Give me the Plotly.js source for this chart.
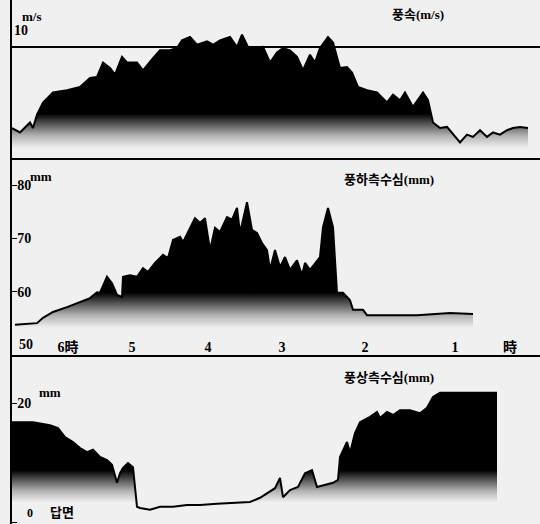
<!DOCTYPE html>
<html><head><meta charset="utf-8">
<script src="https://cdn.plot.ly/plotly-3.0.1.min.js"></script>
<style>html,body{margin:0;padding:0;background:#f0f0f0}</style>
</head><body><div id="chart" style="width:540px;height:524px"></div>
<script>
// time position along the chart (time runs right-to-left: 6時 ... 1時)
const windT = [0,8,18,21,25,31,41,55,68,78,85,91,98,103,110,115,125,131,141,148,158,165,170,178,185,195,201,208,218,225,230,236,243,251,258,265,271,278,285,291,298,303,308,316,321,328,335,340,346,355,365,375,381,388,393,401,411,416,421,428,435,448,455,461,468,475,481,488,495,501,508,516];
const windSpeed = [2.7,2.3,3.2,2.7,3.9,5.0,5.9,6.1,6.4,7.2,7.3,8.6,8.1,7.5,9.1,8.6,8.6,7.9,9.0,9.7,9.7,9.9,10.6,10.9,10.2,10.5,10.2,10.6,10.9,10.0,11.1,10.0,9.9,10.0,8.6,9.5,9.9,9.7,9.1,7.9,9.3,8.6,9.9,10.9,10.4,8.1,8.2,7.7,6.4,6.1,5.9,5.0,5.7,5.2,5.9,4.6,5.9,5.2,3.2,2.7,2.8,1.4,2.1,1.9,2.5,1.9,2.3,2.1,2.5,2.7,2.8,2.7];

const leeT = [3,25,31,41,55,68,78,85,88,95,100,105,110,111,118,125,131,136,143,151,156,161,168,171,176,183,188,193,198,203,208,215,220,225,228,235,240,245,250,255,258,263,268,273,278,285,290,293,298,303,308,311,316,321,325,331,338,341,351,355,371,405,438,461];
const leeDepth = [53.8,54.1,55.1,56.2,57.1,58.1,58.8,59.9,59.8,62.8,61.6,59.4,59.0,62.8,63.1,62.8,64.4,63.7,65.4,66.9,66.3,69.7,70.3,69.3,71.2,73.8,72.9,73.8,67.8,72.0,71.2,74.0,73.5,75.7,71.0,76.8,71.6,71.0,69.1,67.8,64.1,67.8,64.6,66.5,64.1,65.9,63.1,65.4,64.1,65.4,66.5,72.1,75.7,72.1,59.8,59.8,58.4,56.6,56.6,55.6,55.6,55.6,56.0,55.8];

const windT3 = [0,21,38,46,53,61,68,75,81,88,95,100,105,108,111,116,121,125,128,138,148,161,175,188,205,221,238,248,255,263,268,271,278,286,293,300,305,313,321,326,328,335,338,343,348,358,365,368,375,381,388,398,408,415,421,428,455,485];
const windwardDepth = [16.8,16.8,16.3,15.8,14.3,13.5,12.5,11.8,12.2,11.0,10.5,9.7,6.7,8.3,9.2,10.0,9.3,2.7,2.5,2.2,2.7,2.7,3.0,3.0,3.2,3.3,3.5,4.2,5.0,5.8,7.5,4.3,5.5,6.0,8.3,8.8,6.0,6.3,6.7,7.2,11.0,13.5,11.7,15.0,16.8,17.7,18.5,17.5,18.5,18.0,18.8,18.8,18.3,19.2,21.0,21.7,21.7,21.7];

const hourTickPos = [56,120,196,270,353,443,498];
const hourTickText = ['6時','5','4','3','2','1','時'];

const BG = '#f0f0f0';
const FONT = 'Liberation Serif, Noto Sans CJK KR, serif';

function areaTrace(x, y, xa, ya, start, stop) {
  return {
    x: x, y: y, xaxis: xa, yaxis: ya, type: 'scatter', mode: 'lines',
    line: {color: '#000', width: 2}, fill: 'tozeroy',
    fillgradient: {type: 'vertical', start: start, stop: stop,
      colorscale: [[0, BG], [0.35, '#b4b4b4'], [0.7, '#555'], [1, '#000']]},
    hoverinfo: 'skip', showlegend: false
  };
}

const data = [
  areaTrace(windT, windSpeed, 'x', 'y', 0.9, 4.0),
  areaTrace(leeT, leeDepth, 'x2', 'y2', 53.2, 59.8),
  areaTrace(windT3, windwardDepth, 'x3', 'y3', 3.4, 8.8)
];

const axX = {range: [0, 528], showline: true, linecolor: '#000', linewidth: 2, showgrid: false, zeroline: false, fixedrange: true};
const axY = {showline: true, linecolor: '#000', linewidth: 2, showgrid: false, zeroline: false,
  ticks: 'inside', ticklen: 5, tickcolor: '#000', ticklabelposition: 'inside',
  tickfont: {family: FONT, size: 14, color: '#000', weight: 'bold'}};

const ann = (x, y, xref, yref, text, size, xanchor, yanchor) => ({
  x: x, y: y, xref: xref, yref: yref, text: text, showarrow: false,
  xanchor: xanchor || 'center', yanchor: yanchor || 'middle',
  font: {family: FONT, size: size, color: '#000', weight: 'bold'}
});

const layout = {
  width: 540, height: 524,
  margin: {l: 12, r: 0, t: 0, b: 0},
  paper_bgcolor: BG, plot_bgcolor: BG,
  showlegend: false,
  xaxis: Object.assign({}, axX, {anchor: 'y', showticklabels: false, ticks: ''}),
  xaxis2: Object.assign({}, axX, {anchor: 'y2', matches: 'x', tickvals: hourTickPos, ticktext: hourTickText,
    ticks: '', ticklabelposition: 'inside', tickfont: {family: FONT, size: 14, color: '#000', weight: 'bold'}}),
  xaxis3: Object.assign({}, axX, {anchor: 'y3', matches: 'x', showticklabels: false, ticks: ''}),
  yaxis: Object.assign({}, axY, {domain: [0.6985, 1], range: [0, 14.23], tickvals: [10], showticklabels: false, ticks: '',
    showgrid: true, gridcolor: '#000', gridwidth: 1.5}),
  yaxis2: Object.assign({}, axY, {domain: [0.3225, 0.6985], range: [48.12, 85.08], tickvals: [50, 60, 70, 80], ticktext: ['', '60', '70', '80']}),
  yaxis3: Object.assign({}, axY, {domain: [0, 0.3225], range: [-0.17, 28], tickvals: [0, 20], ticktext: ['', '20']}),
  annotations: [
    ann(0, 11.5, 'paper', 'y', '10', 14, 'left'),
    ann(8, 12.7, 'x', 'y', 'm/s', 13, 'left'),
    ann(406, 12.9, 'x', 'y', '풍속(m/s)', 13),
    ann(16, 81.6, 'x2', 'y2', 'mm', 13, 'left'),
    ann(377, 81.0, 'x2', 'y2', '풍하측수심(mm)', 13),
    ann(5, 50, 'x2', 'y2', '50', 14, 'left'),
    ann(25, 21.8, 'x3', 'y3', 'mm', 13, 'left'),
    ann(377, 24.3, 'x3', 'y3', '풍상측수심(mm)', 13),
    ann(50, 1.8, 'x3', 'y3', '답면', 13),
    ann(18, 0.2, 'x3', 'y3', '0', 12, 'center', 'bottom')
  ]
};

Plotly.newPlot('chart', data, layout, {staticPlot: true, displayModeBar: false});
</script>
</body></html>
